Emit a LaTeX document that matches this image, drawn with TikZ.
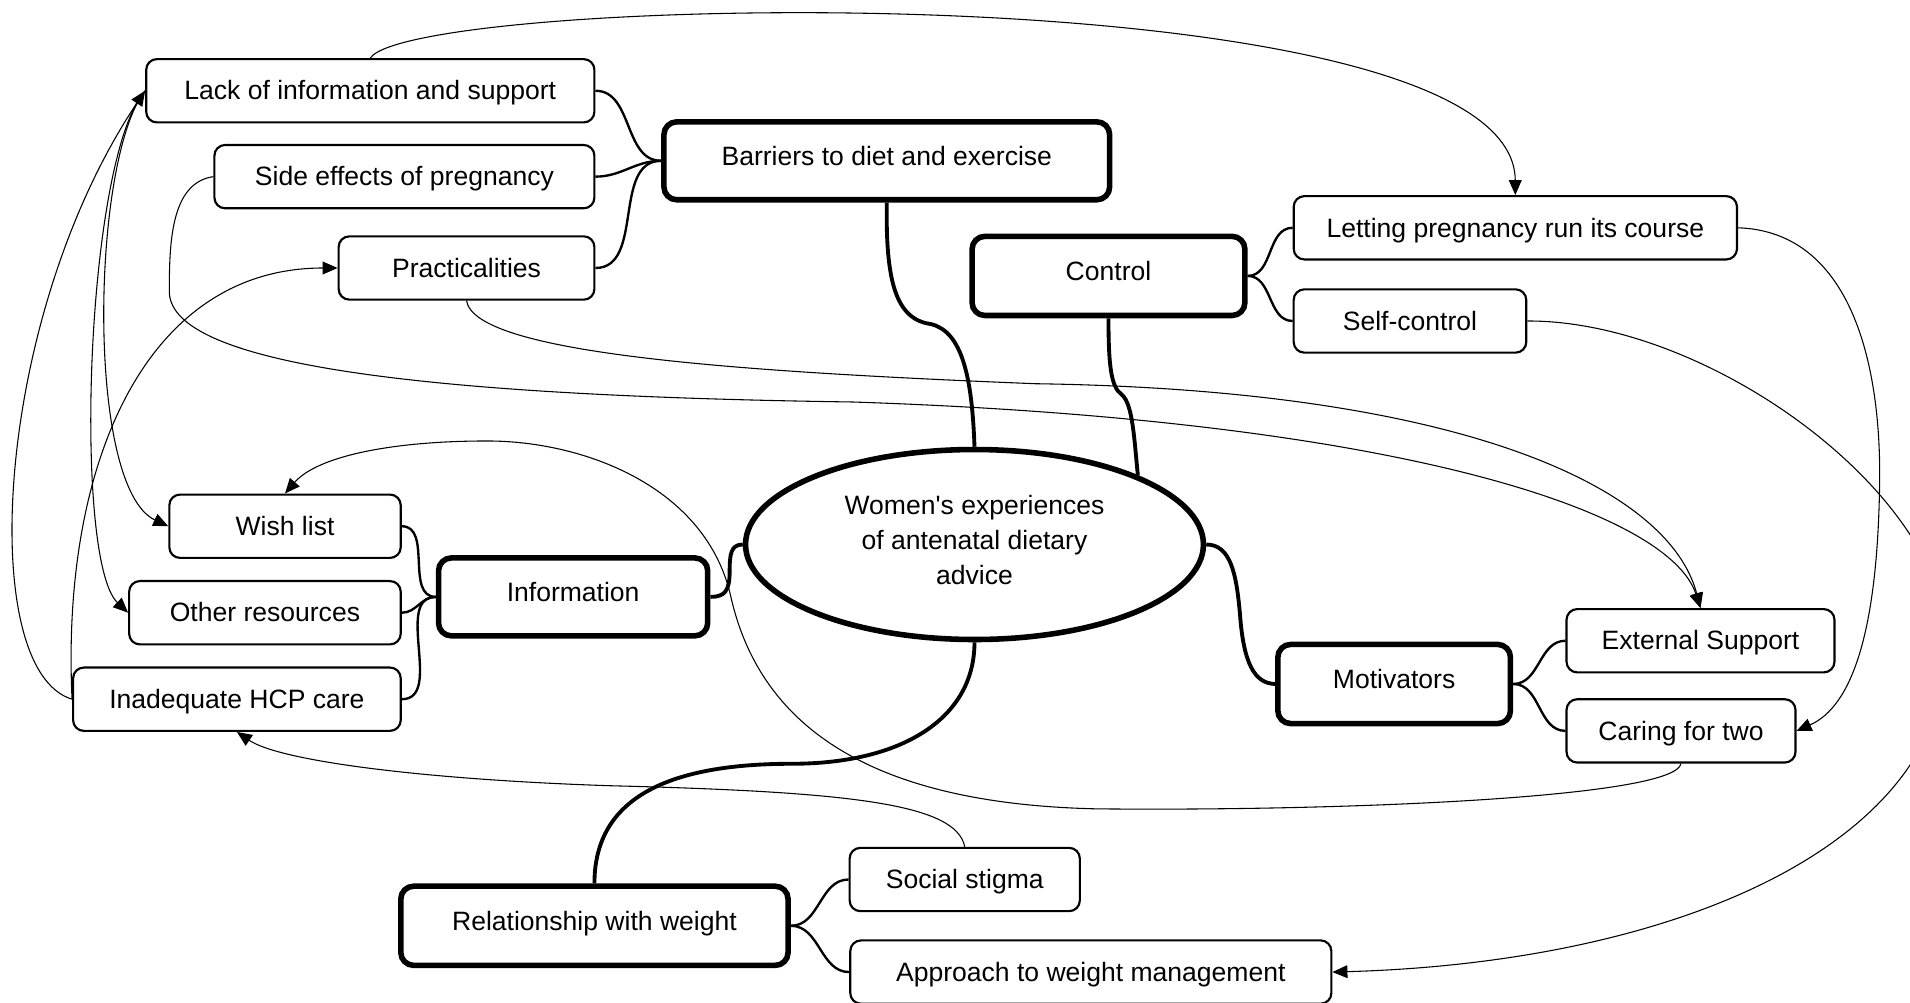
\documentclass[tikz,border=0pt]{standalone}
\usepackage{fontspec}
\setmainfont{Liberation Sans}
\usetikzlibrary{arrows.meta,shapes.geometric}

\begin{document}
\begin{tikzpicture}[
    x=0.02cm, y=-0.02cm,
    font=\fontsize{12.4}{16.5}\selectfont,
    sub/.style={draw, line width=1pt, rounded corners=5pt, minimum height=1.04cm, inner sep=0pt, text height=9pt, text depth=0.4pt},
    theme/.style={draw, line width=2.6pt, rounded corners=6pt, minimum height=1.28cm, inner sep=0pt, text height=9pt, text depth=5pt},
    hub/.style={draw, ellipse, line width=2.6pt, minimum width=7.52cm, minimum height=3.12cm, align=center, inner sep=0pt},
    trunk/.style={line width=1.8pt},
    twig/.style={line width=1.1pt},
    link/.style={-{Triangle[length=7pt,width=6pt]}, line width=0.5pt}
  ]
    \clip (0,0) rectangle (1568,823);
    % central idea and themes
    \node[hub] (cen) at (800,447) {Women\textquotesingle s experiences\\of antenatal dietary\\advice\\[-12pt]\mbox{}};
    \node[theme, minimum width=7.32cm] (barr) at (728,132) {Barriers to diet and exercise};
    \node[theme, minimum width=4.48cm, minimum height=1.30cm] (ctrl) at (910,226.5) {Control};
    \node[theme, minimum width=4.42cm] (info) at (470.5,490) {Information};
    \node[theme, minimum width=3.82cm, minimum height=1.30cm] (motiv) at (1144.5,561.5) {Motivators};
    \node[theme, minimum width=6.36cm, minimum height=1.30cm] (rel) at (488,760) {Relationship with weight};
    % sub-themes
    \node[sub, minimum width=7.36cm] (lack) at (304,74.5) {Lack of information and support};
    \node[sub, minimum width=6.24cm] (side) at (332,145) {Side effects of pregnancy};
    \node[sub, minimum width=4.2cm] (prac) at (383,220) {Practicalities};
    \node[sub, minimum width=7.28cm] (let) at (1244,187) {Letting pregnancy run its course};
    \node[sub, minimum width=3.82cm] (self) at (1157.5,263.5) {Self-control};
    \node[sub, minimum width=3.8cm] (wish) at (234,432) {Wish list};
    \node[sub, minimum width=4.46cm] (other) at (217.5,503) {Other resources};
    \node[sub, minimum width=5.38cm] (inad) at (194.5,574) {Inadequate HCP care};
    \node[sub, minimum width=4.4cm] (ext) at (1396,526) {External Support};
    \node[sub, minimum width=3.76cm] (care) at (1380,600) {Caring for two};
    \node[sub, minimum width=3.78cm] (ss) at (792,722) {Social stigma};
    \node[sub, minimum width=7.9cm] (app) at (895.5,798) {Approach to weight management};
    % branches
    \draw[trunk] (barr.south) .. controls (727,230) and (735,262) .. (764,266) .. controls (790,272) and (798,310) .. (cen.north);
    \draw[trunk] (ctrl.south) .. controls (910,300) and (912,318) .. (921,324) .. controls (930,332) and (931,360) .. (cen.23);
    \draw[trunk] (cen.west) .. controls (600,447) and (599,455) .. (599,469) .. controls (599,485) and (595,490) .. (info.east);
    \draw[trunk] (cen.east) .. controls (1010,447) and (1015,470) .. (1018,505) .. controls (1021,545) and (1030,561) .. (motiv.west);
    \draw[trunk] (cen.south) .. controls (800,590) and (740,627) .. (650,627) .. controls (540,627) and (488,660) .. (rel.north);
    \foreach \a/\b in {barr/lack,barr/side,barr/prac,info/wish,info/other,info/inad}
      \draw[twig] (\a.west) to[out=180,in=0] (\b.east);
    \foreach \a/\b in {ctrl/let,ctrl/self,motiv/ext,motiv/care,rel/ss,rel/app}
      \draw[twig] (\a.east) to[out=0,in=180] (\b.west);
    % cross links
    \draw[link] (lack.north) .. controls (340,-5) and (1243,-25) .. (let.north);
    \draw[link] (inad.west) .. controls (-20,550) and (-5,260) .. (lack.west);
    \draw[link] (lack.west) .. controls (75,130) and (70,400) .. (wish.west);
    \draw[link] (lack.west) .. controls (70,130) and (60,460) .. (other.west);
    \draw[link] (inad.west) .. controls (50,380) and (120,220) .. (prac.west);
    \draw[link] (side.west) .. controls (140,150) and (139,200) .. (139,240) .. controls (141,300) and (350,325) .. (700,330) .. controls (1150,345) and (1370,420) .. (ext.north);
    \draw[link] (prac.south) .. controls (390,290) and (600,305) .. (850,315) .. controls (1200,320) and (1370,400) .. (ext.north);
    \draw[link] (self.east) .. controls (1400,263) and (1590,400) .. (1598,520) .. controls (1608,690) and (1380,790) .. (app.east);
    \draw[link] (let.east) .. controls (1520,190) and (1545,300) .. (1543,400) .. controls (1541,520) and (1520,580) .. (care.east);
    \draw[link] (care.south) .. controls (1375,655) and (1100,666) .. (900,664) .. controls (720,660) and (625,600) .. (600,490) .. controls (580,400) and (480,362) .. (400,362) .. controls (320,362) and (260,375) .. (wish.north);
    \draw[link] (ss.north) .. controls (785,660) and (700,650) .. (500,645) .. controls (350,640) and (230,625) .. (inad.south);
  \end{tikzpicture}
\end{document}
